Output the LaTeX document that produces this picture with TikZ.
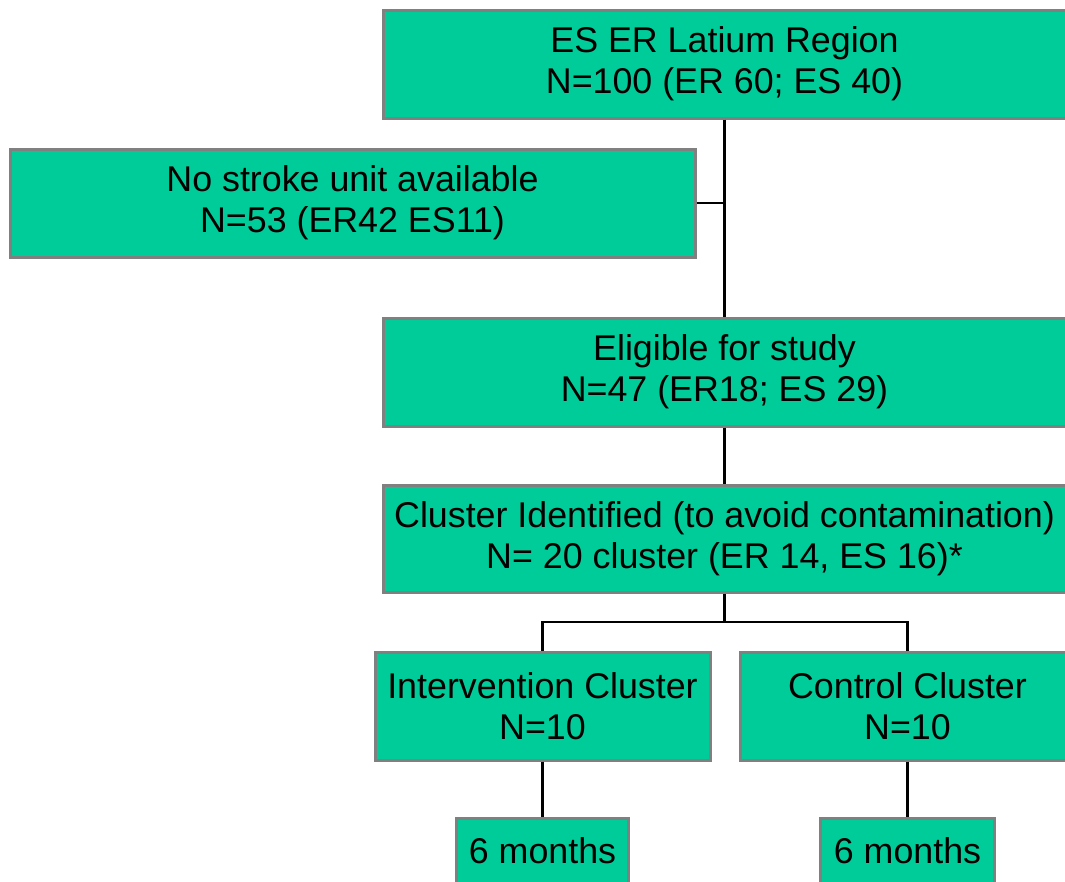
\documentclass[tikz,border=0pt]{standalone}
\usepackage{fontspec}
\setmainfont{Liberation Sans}
\usepackage{xcolor}
\usepackage{tikz}
\usetikzlibrary{calc}
\usetikzlibrary{positioning}

\definecolor{boxgreen}{RGB}{0,204,153}
\definecolor{boxedge}{RGB}{128,128,128}

\begin{document}
\begin{tikzpicture}[x=1pt, y=-1pt,
  box/.style={draw=boxedge, line width=3pt, fill=boxgreen, align=center,
    inner sep=0pt, font=\fontsize{35.8}{41}\selectfont},
  link/.style={draw, line width=2.5pt}]

\useasboundingbox (0,0) rectangle (1065,881);
\clip (0,0) rectangle (1065,881);

\node[box, minimum width=683pt, minimum height=108pt] (region) at (724.5,64) {ES ER Latium Region\\N=100 (ER 60; ES 40)};
\node[box, minimum width=685pt, minimum height=108pt] (nostroke) at (352.5,203) {No stroke unit available\\N=53 (ER42 ES11)};
\node[box, minimum width=683pt, minimum height=108pt] (eligible) at (724.5,372) {Eligible for study\\N=47 (ER18; ES 29)};
\node[box, minimum width=683pt, minimum height=107pt] (cluster) at (724.5,538.5) {Cluster Identified (to avoid contamination)\\N= 20 cluster (ER 14, ES 16)*};
\node[box, minimum width=335pt, minimum height=108pt] (interv) at (542.5,706) {Intervention Cluster\\N=10};
\node[box, minimum width=335pt, minimum height=108pt] (control) at (907.5,706) {Control Cluster\\N=10};
\node[box, minimum width=172pt, minimum height=66pt] (months1) at (542.5,851) {6 months};
\node[box, minimum width=174pt, minimum height=66pt] (months2) at (907.5,851) {6 months};

\coordinate (fork) at (724.5,622);

\path[link] (region.south) -- (eligible.north);
\path[link] (nostroke.east) -- (nostroke.east -| region.south);
\path[link] (eligible.south) -- (cluster.north);
\path[link] (cluster.south) -- (fork);
\path[link] (interv.north) |- (fork) -| (control.north);
\path[link] (interv.south) -- (months1.north);
\path[link] (control.south) -- (months2.north);

\end{tikzpicture}
\end{document}
